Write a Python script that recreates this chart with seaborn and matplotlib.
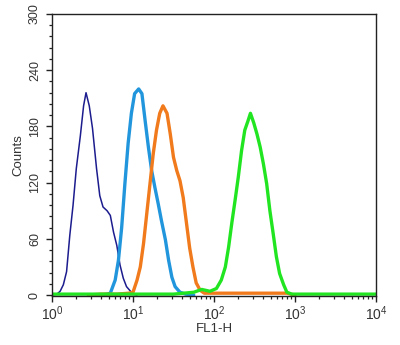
import numpy as np
import matplotlib
matplotlib.use("Agg")
import matplotlib.pyplot as plt
from matplotlib.ticker import MultipleLocator
import seaborn as sns

# log10(FL1-H) positions and counts
navy_log = [0.00, 0.06, 0.10, 0.14, 0.18, 0.22, 0.26, 0.30, 0.35, 0.39, 0.42, 0.46, 0.50,
            0.55, 0.59, 0.63, 0.68, 0.72, 0.76, 0.80, 0.84, 0.88, 0.92, 0.96, 1.00, 1.05]
navy_cnt = [0, 1, 4, 11, 25, 64, 96, 135, 170, 202, 216, 202, 178,
            135, 106, 94, 90, 85, 67, 53, 32, 18, 9, 5, 1, 0]

blue_log = [0.60, 0.68, 0.72, 0.78, 0.82, 0.86, 0.90, 0.94, 0.98, 1.02, 1.07, 1.11, 1.15,
            1.19, 1.23, 1.27, 1.31, 1.35, 1.40, 1.44, 1.48, 1.52, 1.58, 1.65, 1.75]
blue_cnt = [0, 1, 2, 16, 37, 72, 119, 162, 194, 215, 220, 215, 186,
            158, 133, 115, 98, 80, 59, 37, 19, 9, 3, 1, 0]

orange_log = [0.45, 0.60, 0.80, 0.95, 1.00, 1.05, 1.09, 1.13, 1.17, 1.21, 1.25, 1.29, 1.33,
              1.37, 1.42, 1.46, 1.50, 1.54, 1.58, 1.62, 1.66, 1.70, 1.74, 1.78, 1.83, 1.88,
              2.00, 2.30, 2.60, 2.90, 3.00]
orange_cnt = [0, 1, 1, 2, 3, 16, 30, 55, 87, 119, 151, 176, 194,
              202, 194, 172, 147, 133, 122, 104, 77, 50, 30, 13, 5, 2,
              2, 2, 2, 2, 0]

green_log = [0.00, 0.50, 1.00, 1.50, 1.75, 1.85, 1.95, 2.03, 2.09, 2.14, 2.18, 2.22, 2.26,
             2.30, 2.34, 2.38, 2.42, 2.45, 2.49, 2.53, 2.57, 2.61, 2.65, 2.69, 2.73, 2.77,
             2.81, 2.86, 2.90, 2.96, 3.20, 3.60, 4.00]
green_cnt = [1, 1, 1, 1, 3, 6, 4, 7, 16, 30, 51, 77, 101,
             126, 154, 176, 186, 194, 184, 172, 158, 140, 119, 90, 66, 41,
             23, 11, 3, 1, 1, 1, 1]

y_ticks = [0, 60, 120, 180, 240, 300]

sns.set_style("ticks")
plt.rcParams["font.family"] = ["Liberation Sans", "DejaVu Sans"]
plt.rcParams["mathtext.fontset"] = "custom"
plt.rcParams["mathtext.rm"] = "Liberation Sans"
plt.rcParams["mathtext.it"] = "Liberation Sans:italic"

fig = plt.figure(figsize=(4.0, 3.45), dpi=100)
ax = fig.add_axes([52 / 400, 1 - 296 / 345, 324 / 400, 282 / 345])

series = [
    (navy_log, navy_cnt, "#1c1c8e", 1.1),
    (blue_log, blue_cnt, "#2196dd", 2.4),
    (orange_log, orange_cnt, "#f07a1c", 2.4),
    (green_log, green_cnt, "#22e522", 2.4),
]
for lg, cnt, col, lw in series:
    sns.lineplot(x=10 ** np.array(lg), y=cnt, color=col, linewidth=lw,
                 estimator=None, sort=False, ax=ax)

ax.set_xscale("log")
ax.set_xlim(1, 1e4)
ax.set_ylim(-1, 300)
ax.set_yticks(y_ticks)
ax.yaxis.set_minor_locator(MultipleLocator(12))

for s in ax.spines.values():
    s.set_visible(True)
    s.set_linewidth(1.0)
    s.set_color("#222222")

ax.tick_params(axis="both", which="major", direction="out", length=4, width=1.0,
               color="#222222", labelcolor="#333333")
ax.tick_params(axis="both", which="minor", direction="out", length=2.5, width=0.9,
               color="#222222")
ax.tick_params(axis="y", labelsize=9, pad=4)
ax.tick_params(axis="x", labelsize=10, pad=2)
for lab in ax.get_yticklabels():
    lab.set_rotation(90)
    lab.set_va("center")

ax.set_xlabel("FL1-H", fontsize=9.5, color="#333333", labelpad=0)
ax.set_ylabel("Counts", fontsize=9.5, color="#333333", labelpad=3)

fig.savefig("out.png", dpi=100)
